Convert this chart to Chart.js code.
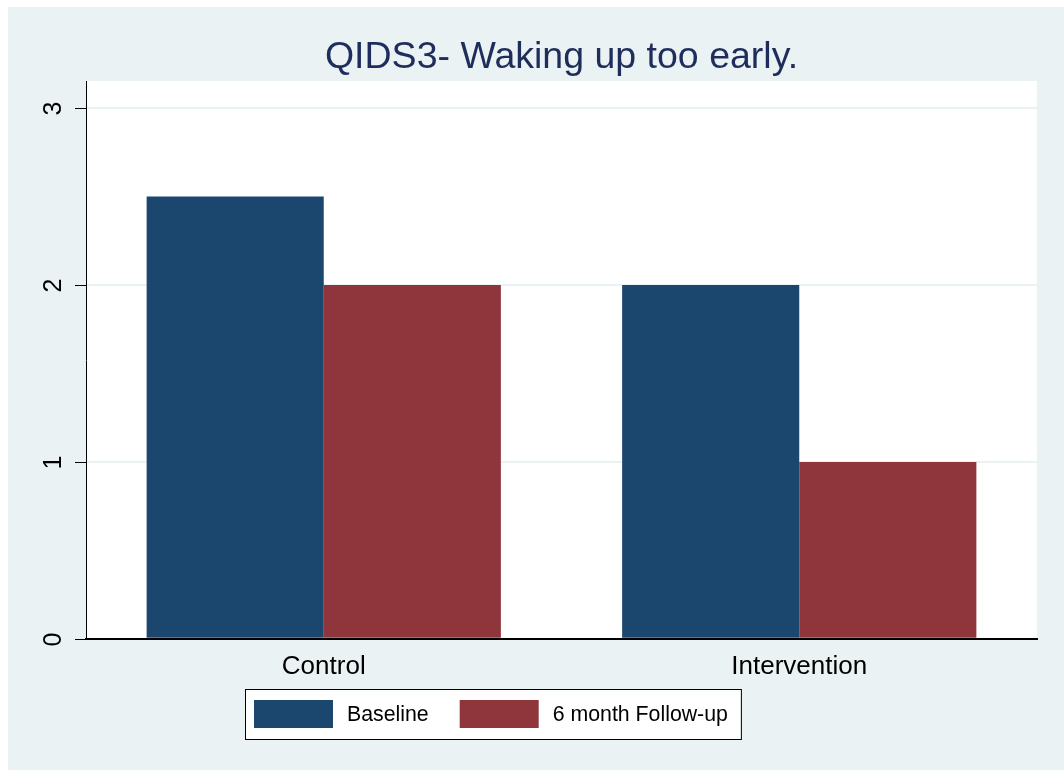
<!DOCTYPE html>
<html>
<head>
<meta charset="utf-8">
<script src="https://cdn.jsdelivr.net/npm/chart.js@4.4.0/dist/chart.umd.min.js"></script>
<style>
  html, body { margin: 0; padding: 0; background: #ffffff; }
  #wrap { width: 1064px; height: 770px; }
</style>
</head>
<body>
<div id="wrap"><canvas id="qidsChart" width="1064" height="770"></canvas></div>
<script>
const categories = ['Control', 'Intervention'];
const baselineValues = [2.5, 2];
const followUpValues = [2, 1];
const yTicks = [0, 1, 2, 3];
const seriesLabels = ['Baseline', '6 month Follow-up'];
const titleText = 'QIDS3- Waking up too early.';

const navy = '#1B476F';
const maroon = '#8F353C';
const bgColor = '#EAF2F3';
const fontFamily = '"Liberation Sans", Arial, Helvetica, sans-serif';

// background, plot area, title, rotated y labels and boxed legend (Stata look)
const stataPlugin = {
    id: 'stataLook',
    beforeDraw(chart) {
        const ctx = chart.ctx;
        const area = chart.chartArea;
        ctx.save();
        ctx.fillStyle = '#ffffff';
        ctx.fillRect(0, 0, chart.width, chart.height);
        ctx.fillStyle = bgColor;
        ctx.fillRect(8, 7, chart.width - 8, chart.height - 7);
        ctx.fillStyle = '#ffffff';
        ctx.fillRect(area.left, area.top, area.right - area.left, area.bottom - area.top);
        ctx.restore();
    },
    afterDraw(chart) {
        const ctx = chart.ctx;
        const area = chart.chartArea;
        const yScale = chart.scales.y;
        ctx.save();

        // title
        ctx.fillStyle = '#1E2D5B';
        ctx.font = '37.5px ' + fontFamily;
        ctx.textAlign = 'center';
        ctx.textBaseline = 'middle';
        ctx.fillText(titleText, (area.left + area.right) / 2, 58);

        // y ticks and rotated labels
        ctx.strokeStyle = '#000000';
        ctx.lineWidth = 1;
        ctx.fillStyle = '#000000';
        ctx.font = '25px ' + fontFamily;
        yTicks.forEach(function(v) {
            const y = Math.round(yScale.getPixelForValue(v)) + 0.5;
            ctx.beginPath();
            ctx.moveTo(area.left - 11, y);
            ctx.lineTo(area.left, y);
            ctx.stroke();
            ctx.save();
            ctx.translate(area.left - 32, y);
            ctx.rotate(-Math.PI / 2);
            ctx.textAlign = 'center';
            ctx.textBaseline = 'middle';
            ctx.fillText(String(v), 0, 0);
            ctx.restore();
        });

        // legend
        const colors = [navy, maroon];
        ctx.font = '21.3px ' + fontFamily;
        const swW = 79, swH = 28, pad = 9, gap = 14, between = 31;
        let total = pad;
        seriesLabels.forEach(function(lbl, i) {
            total += swW + gap + ctx.measureText(lbl).width;
            if (i < seriesLabels.length - 1) total += between;
        });
        total += 13;
        const lx = 245, ly = 689, lh = 50;
        ctx.fillStyle = '#ffffff';
        ctx.fillRect(lx, ly, total, lh);
        ctx.strokeStyle = '#000000';
        ctx.lineWidth = 1;
        ctx.strokeRect(lx + 0.5, ly + 0.5, total, lh);
        let x = lx + pad;
        seriesLabels.forEach(function(lbl, i) {
            ctx.fillStyle = colors[i];
            ctx.fillRect(x, ly + 11, swW, swH);
            x += swW + gap;
            ctx.fillStyle = '#000000';
            ctx.textAlign = 'left';
            ctx.textBaseline = 'middle';
            ctx.fillText(lbl, x, ly + 26);
            x += ctx.measureText(lbl).width + between;
        });
        ctx.restore();
    }
};

const ctx = document.getElementById('qidsChart').getContext('2d');
new Chart(ctx, {
    type: 'bar',
    data: {
        labels: categories,
        datasets: [{
            label: seriesLabels[0],
            data: baselineValues,
            backgroundColor: navy,
            borderWidth: 0
        }, {
            label: seriesLabels[1],
            data: followUpValues,
            backgroundColor: maroon,
            borderWidth: 0
        }]
    },
    options: {
        responsive: false,
        animation: false,
        devicePixelRatio: 1,
        layout: {
            padding: { left: 86, right: 27, top: 81, bottom: 76 }
        },
        datasets: {
            bar: { categoryPercentage: 0.745, barPercentage: 1.0 }
        },
        plugins: {
            legend: { display: false },
            title: { display: false },
            tooltip: { enabled: false }
        },
        scales: {
            x: {
                grid: { display: false, drawTicks: false },
                border: { display: true, color: '#000000', width: 2 },
                ticks: {
                    color: '#000000',
                    padding: 12,
                    font: { family: fontFamily, size: 26 }
                }
            },
            y: {
                min: 0,
                max: 3.153,
                afterBuildTicks: function(scale) {
                    scale.ticks = yTicks.map(function(v) { return { value: v }; });
                },
                ticks: { display: false },
                grid: {
                    drawTicks: false,
                    lineWidth: 2,
                    color: function(c) {
                        return c.tick && c.tick.value === 0 ? 'rgba(0,0,0,0)' : bgColor;
                    }
                },
                border: { display: true, color: '#000000', width: 1 }
            }
        }
    },
    plugins: [stataPlugin]
});
</script>
</body>
</html>
